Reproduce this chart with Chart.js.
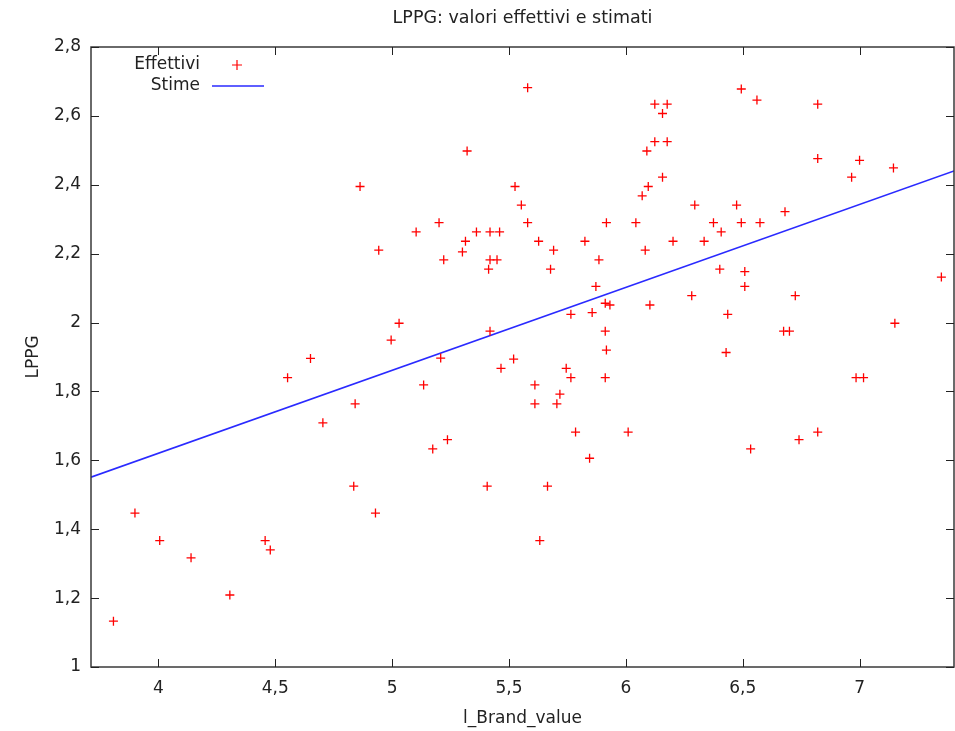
<!DOCTYPE html>
<html>
<head>
<meta charset="utf-8">
<title>LPPG: valori effettivi e stimati</title>
<script src="https://cdn.jsdelivr.net/npm/chart.js@4.4.1/dist/chart.umd.min.js"></script>
<style>
    html, body { margin: 0; padding: 0; background: #fff; overflow: hidden; }
    #wrap { width: 955px; height: 731px; position: relative; }
    #wrap canvas { display: block; }
</style>
</head>
<body>
<div id="wrap"><canvas id="myChart"></canvas></div>
<script>
// l_Brand_value (x) and LPPG (y)
const effettiviX = [
    3.808, 3.900, 4.006, 4.140, 4.306, 4.457, 4.479, 4.553, 4.651, 4.704,
    4.836, 4.842, 4.863, 4.929, 4.943, 4.996, 5.030, 5.103, 5.135, 5.174,
    5.201, 5.208, 5.221, 5.237, 5.301, 5.314, 5.321, 5.361, 5.407, 5.413,
    5.419, 5.419, 5.419, 5.449, 5.460, 5.466, 5.520, 5.526, 5.553, 5.580,
    5.580, 5.611, 5.611, 5.627, 5.632, 5.665, 5.678, 5.691, 5.705, 5.718,
    5.745, 5.765, 5.765, 5.785, 5.825, 5.845, 5.856, 5.872, 5.885, 5.912,
    5.912, 5.912, 5.917, 5.917, 5.932, 6.010, 6.043, 6.070, 6.083, 6.090,
    6.096, 6.103, 6.124, 6.124, 6.157, 6.157, 6.177, 6.177, 6.202, 6.282,
    6.295, 6.335, 6.375, 6.402, 6.408, 6.429, 6.436, 6.474, 6.494, 6.494,
    6.509, 6.509, 6.534, 6.561, 6.574, 6.675, 6.681, 6.700, 6.725, 6.741,
    6.821, 6.821, 6.821, 6.966, 6.985, 7.000, 7.017, 7.145, 7.151, 7.350
];
const effettiviY = [
    1.133, 1.447, 1.367, 1.317, 1.209, 1.367, 1.340, 1.840, 1.896, 1.709,
    1.525, 1.764, 2.395, 1.447, 2.210, 1.949, 1.998, 2.263, 1.819, 1.633,
    2.290, 1.897, 2.182, 1.660, 2.205, 2.236, 2.498, 2.263, 1.525, 2.155,
    2.263, 2.182, 1.975, 2.182, 2.263, 1.867, 1.894, 2.395, 2.341, 2.682,
    2.290, 1.819, 1.764, 2.236, 1.367, 1.525, 2.155, 2.210, 1.764, 1.792,
    1.867, 2.024, 1.840, 1.682, 2.236, 1.606, 2.029, 2.105, 2.182, 2.056,
    1.975, 1.840, 2.290, 1.920, 2.051, 1.682, 2.290, 2.368, 2.210, 2.498,
    2.395, 2.051, 2.634, 2.525, 2.607, 2.422, 2.634, 2.525, 2.236, 2.078,
    2.341, 2.236, 2.290, 2.155, 2.263, 1.913, 2.024, 2.341, 2.678, 2.290,
    2.148, 2.105, 1.633, 2.646, 2.290, 1.975, 2.322, 1.975, 2.078, 1.660,
    2.634, 2.476, 1.682, 2.422, 1.840, 2.471, 1.840, 2.449, 1.998, 2.132
];
// fitted line, ends at the axis limits
const stimeX = [3.712, 7.404];
const stimeY = [1.551, 2.440];

const xMin = 3.712, xMax = 7.404;
const yMin = 1, yMax = 2.8;

function toPoints(xs, ys) {
    return xs.map(function (x, i) { return {x: x, y: ys[i]}; });
}

function commaLabel(value) {
    return String(Math.round(value * 10) / 10).replace('.', ',');
}

// gnuplot-like frame, inward ticks and legend
const framePlugin = {
    id: 'frame',
    afterDraw: function (chart) {
        const ctx = chart.ctx;
        const a = chart.chartArea;
        const xs = chart.scales.x, ys = chart.scales.y;
        ctx.save();
        ctx.strokeStyle = '#3a3a3a';
        ctx.lineWidth = 1.5;
        ctx.strokeRect(a.left, a.top, a.right - a.left, a.bottom - a.top);
        ctx.lineWidth = 1;
        ctx.strokeStyle = '#222';
        ctx.beginPath();
        xs.ticks.forEach(function (t) {
            const px = Math.round(xs.getPixelForValue(t.value)) + 0.5;
            ctx.moveTo(px, a.bottom); ctx.lineTo(px, a.bottom - 8);
            ctx.moveTo(px, a.top); ctx.lineTo(px, a.top + 8);
        });
        ys.ticks.forEach(function (t) {
            const py = Math.round(ys.getPixelForValue(t.value)) + 0.5;
            ctx.moveTo(a.left, py); ctx.lineTo(a.left + 8, py);
            ctx.moveTo(a.right, py); ctx.lineTo(a.right - 8, py);
        });
        ctx.stroke();

        // legend: label on the left, sample on the right
        const ds = chart.data.datasets;
        ctx.font = '17px "DejaVu Sans"';
        ctx.fillStyle = '#222';
        ctx.textAlign = 'right';
        ctx.textBaseline = 'middle';
        ctx.fillText(ds[0].label, 200, 65);
        ctx.fillText(ds[1].label, 200, 86);
        ctx.strokeStyle = ds[0].borderColor;
        ctx.lineWidth = 1.2;
        ctx.beginPath();
        ctx.moveTo(232, 65); ctx.lineTo(242, 65);
        ctx.moveTo(237, 60); ctx.lineTo(237, 70);
        ctx.stroke();
        ctx.strokeStyle = ds[1].borderColor;
        ctx.lineWidth = ds[1].borderWidth;
        ctx.beginPath();
        ctx.moveTo(212, 86); ctx.lineTo(264, 86);
        ctx.stroke();
        ctx.restore();
    }
};

Chart.defaults.font.family = '"DejaVu Sans"';
Chart.defaults.font.size = 17;
Chart.defaults.color = '#222';

const data = {
    datasets: [{
        type: 'scatter',
        label: 'Effettivi',
        data: toPoints(effettiviX, effettiviY),
        pointStyle: 'cross',
        pointRadius: 4.5,
        borderColor: '#ff0000',
        backgroundColor: '#ff0000',
        borderWidth: 1.3
    }, {
        type: 'line',
        label: 'Stime',
        data: toPoints(stimeX, stimeY),
        borderColor: '#2a2aff',
        borderWidth: 1.6,
        pointRadius: 0,
        fill: false
    }]
};

const config = {
    type: 'scatter',
    data: data,
    options: {
        responsive: true,
        maintainAspectRatio: false,
        animation: false,
        events: [],
        layout: {
            autoPadding: false,
            padding: {left: 0, right: 1, top: 0, bottom: 0}
        },
        plugins: {
            legend: {display: false},
            tooltip: {enabled: false},
            title: {
                display: true,
                text: 'LPPG: valori effettivi e stimati',
                fullSize: false,
                color: '#222',
                font: {size: 17.5, weight: 'normal'},
                padding: {top: 8, bottom: 18}
            }
        },
        scales: {
            x: {
                type: 'linear',
                min: xMin,
                max: xMax,
                afterFit: function (scale) {
                    scale.height = 64;
                    scale.paddingLeft = 0;
                    scale.paddingRight = 0;
                },
                grid: {display: false, drawTicks: false},
                border: {display: false},
                ticks: {
                    stepSize: 0.5,
                    includeBounds: false,
                    padding: 11,
                    maxRotation: 0,
                    callback: commaLabel
                },
                title: {
                    display: true,
                    text: 'l_Brand_value',
                    padding: {top: 0, bottom: 2}
                }
            },
            y: {
                type: 'linear',
                min: yMin,
                max: yMax,
                afterFit: function (scale) { scale.width = 91; },
                grid: {display: false, drawTicks: false},
                border: {display: false},
                ticks: {
                    stepSize: 0.2,
                    padding: 10,
                    callback: commaLabel
                },
                title: {
                    display: true,
                    text: 'LPPG',
                    padding: {top: 23, bottom: 0}
                }
            }
        }
    },
    plugins: [framePlugin]
};

const myChart = new Chart(document.getElementById('myChart'), config);
</script>
</body>
</html>
